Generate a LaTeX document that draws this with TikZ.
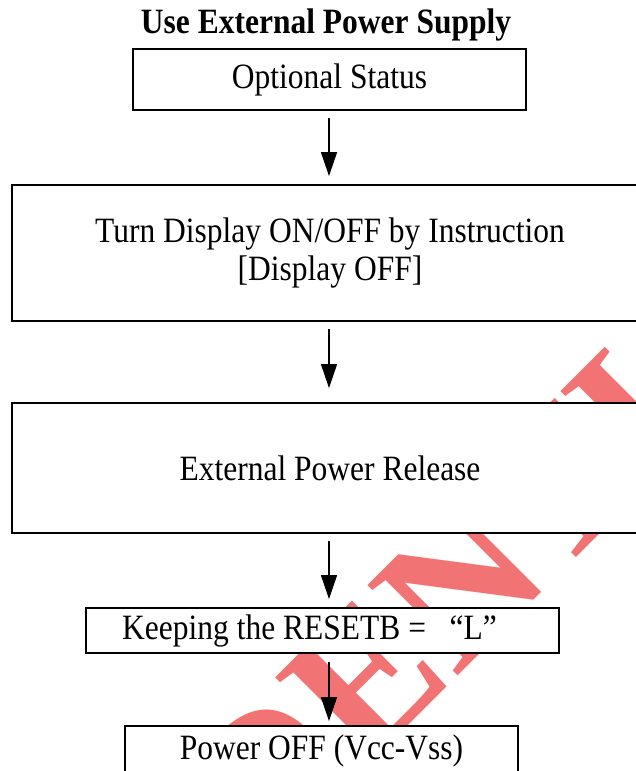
\documentclass[tikz,border=0pt]{standalone}
\usepackage{graphicx}
\usepackage{fontspec}
\setmainfont{Liberation Serif}
\usetikzlibrary{arrows.meta}
\definecolor{wmred}{RGB}{242,115,115}
\newcommand\vst[1]{\scalebox{1}[1.13]{#1}}
\tikzset{
  box/.style={draw=black, line width=1.8pt, fill=white, inner sep=0pt, align=center,
    font=\fontsize{31.5pt}{38pt}\selectfont},
  arr/.style={line width=1.3pt, -{Triangle[length=24pt,width=16pt]}},
}
\begin{document}
\begin{tikzpicture}[x=1pt,y=-1pt]
\useasboundingbox (0,0) rectangle (636,771);
\clip (0,0) rectangle (636,771);
\fill[white] (0,0) rectangle (636,771);
% watermark
\node[rotate=45, text=wmred, font=\bfseries\fontsize{195pt}{195pt}\selectfont] (wm) at (311,733) {CONFIDENTIAL};
% title
\node[font=\bfseries\fontsize{31.5pt}{37pt}\selectfont] (title) at (326,25) {\vst{Use External Power Supply}};
% boxes
\node[box, minimum width=393pt, minimum height=61pt] (opt) at (329.5,79.5) {\vst{Optional Status}};
\node[box, minimum width=636pt, minimum height=136pt] (disp) at (330,253) {\vst{Turn Display ON/OFF by Instruction}\\\vst{[Display OFF]}};
\node[box, minimum width=636pt, minimum height=130pt] (ext) at (330,468) {\vst{External Power Release}};
\node[box, minimum width=473pt, minimum height=45pt] (keep) at (322.5,630.5) {\vst{Keeping the RESETB =\ \ \ “L”}\hspace*{26pt}};
\node[box, minimum width=393pt, minimum height=50pt] (pwr) at (321.5,751) {\vst{Power OFF (Vcc-Vss)}};
% arrows
\coordinate (ax) at (329,0);
\draw[arr, shorten <=7pt, shorten >=8pt] (opt.south -| ax) -- (disp.north -| ax);
\draw[arr, shorten <=7pt, shorten >=14pt] (disp.south -| ax) -- (ext.north -| ax);
\draw[arr, shorten <=7pt, shorten >=8pt] (ext.south -| ax) -- (keep.north -| ax);
\draw[arr, shorten <=8pt, shorten >=4pt] (keep.south -| ax) -- (pwr.north -| ax);
\end{tikzpicture}
\end{document}
